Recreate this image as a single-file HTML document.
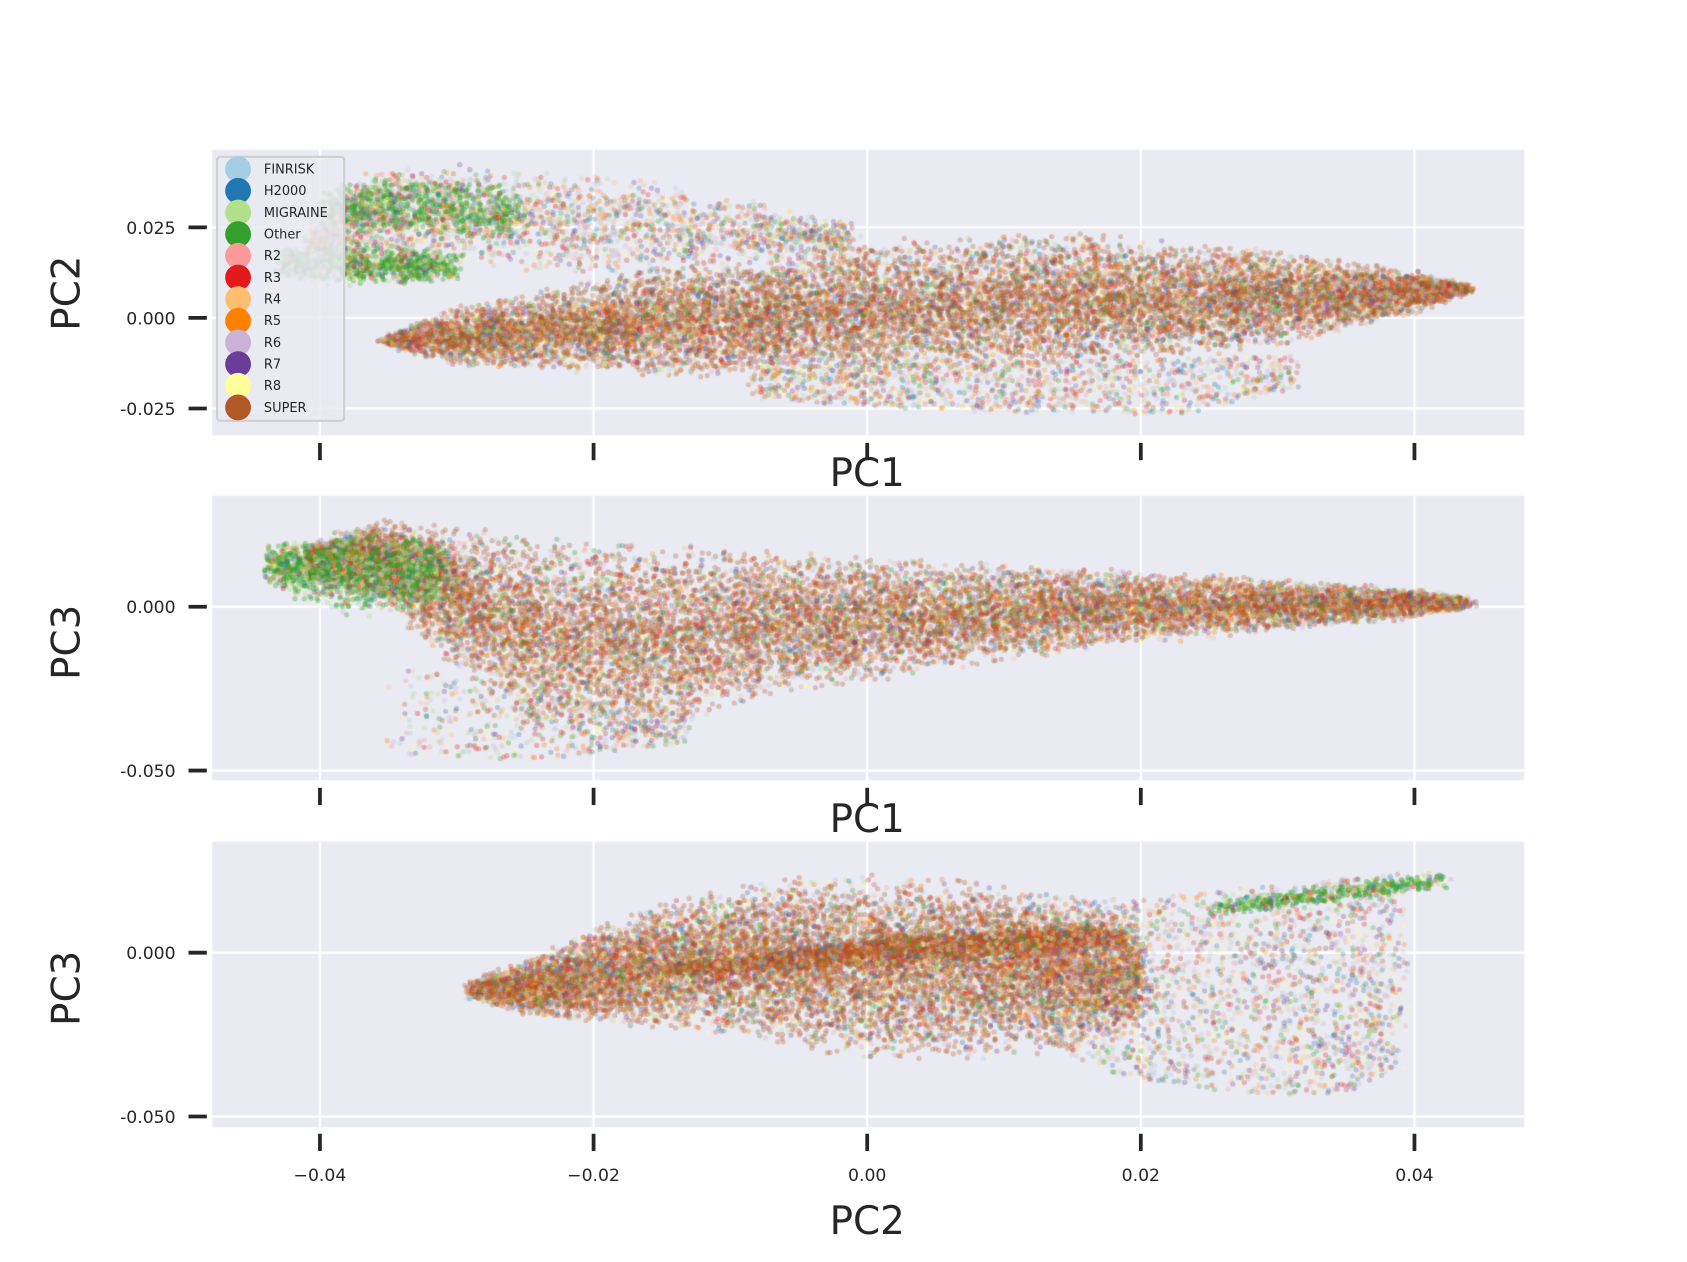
<!DOCTYPE html>
<html><head><meta charset="utf-8"><style>
html,body{margin:0;padding:0;background:#fff;}
#w{position:relative;width:1687px;height:1262px;overflow:hidden;}
canvas,svg{position:absolute;left:0;top:0;}
</style></head><body><div id="w">
<canvas id="c" width="1687" height="1262"></canvas>
<svg width="1687" height="1262" viewBox="0 0 1566 1171" preserveAspectRatio="none" font-family="'DejaVu Sans','Liberation Sans',sans-serif" fill="#262626">
<g stroke="#262626" stroke-width="3.5">
<line x1="175" y1="211" x2="192" y2="211"/><line x1="175" y1="295" x2="192" y2="295"/><line x1="175" y1="379" x2="192" y2="379"/>
<line x1="175" y1="563" x2="192" y2="563"/><line x1="175" y1="715" x2="192" y2="715"/>
<line x1="175" y1="884" x2="192" y2="884"/><line x1="175" y1="1036" x2="192" y2="1036"/>
<line x1="297" y1="411" x2="297" y2="427"/><line x1="551" y1="411" x2="551" y2="427"/><line x1="805" y1="411" x2="805" y2="427"/><line x1="1059" y1="411" x2="1059" y2="427"/><line x1="1313" y1="411" x2="1313" y2="427"/>
<line x1="297" y1="731" x2="297" y2="747"/><line x1="551" y1="731" x2="551" y2="747"/><line x1="805" y1="731" x2="805" y2="747"/><line x1="1059" y1="731" x2="1059" y2="747"/><line x1="1313" y1="731" x2="1313" y2="747"/>
<line x1="297" y1="1052" x2="297" y2="1068"/><line x1="551" y1="1052" x2="551" y2="1068"/><line x1="805" y1="1052" x2="805" y2="1068"/><line x1="1059" y1="1052" x2="1059" y2="1068"/><line x1="1313" y1="1052" x2="1313" y2="1068"/>
</g>
<g font-size="16" text-anchor="end">
<text x="163" y="217">0.025</text><text x="163" y="301">0.000</text><text x="163" y="385">-0.025</text>
<text x="163" y="569">0.000</text><text x="163" y="721">-0.050</text>
<text x="163" y="890">0.000</text><text x="163" y="1042">-0.050</text>
</g>
<g font-size="16" text-anchor="middle">
<text x="297" y="1096">−0.04</text><text x="551" y="1096">−0.02</text><text x="805" y="1096">0.00</text><text x="1059" y="1096">0.02</text><text x="1313" y="1096">0.04</text>
</g>
<g font-size="36" text-anchor="middle">
<text x="805" y="451">PC1</text><text x="805" y="772">PC1</text><text x="805" y="1145">PC2</text>
<text transform="translate(74,272) rotate(-90)">PC2</text>
<text transform="translate(74,596) rotate(-90)">PC3</text>
<text transform="translate(74,917) rotate(-90)">PC3</text>
</g>
<rect x="201.5" y="145.5" width="118" height="245" rx="3" fill="#eaeaf2" fill-opacity="0.85" stroke="#d0d0d0" stroke-width="2"/>
<g id="leg" font-size="12"></g>
</svg>
</div>
<script>
var cols=["#a6cee3","#1f78b4","#b2df8a","#33a02c","#fb9a99","#e31a1c","#fdbf6f","#ff7f00","#cab2d6","#6a3d9a","#ffff99","#b15928"];
var names=["FINRISK","H2000","MIGRAINE","Other","R2","R3","R4","R5","R6","R7","R8","SUPER"];
var leg=document.getElementById('leg'),h='';
for(var i=0;i<12;i++){var y=157+20.1*i;h+='<circle cx="221" cy="'+y+'" r="12" fill="'+cols[i]+'"/><text x="245" y="'+(y+4)+'">'+names[i]+'</text>';}
leg.innerHTML=h;
var c=document.getElementById('c').getContext('2d');
c.scale(1687/1566,1262/1171);
var s=12345;function R(){s=(s*16807)%2147483647;return s/2147483647;}
var panels=[[139,404,[211,295,379]],[460,724,[563,715]],[781,1046,[884,1036]]];
panels.forEach(function(p){
 c.fillStyle="#eaeaf2";c.fillRect(197,p[0],1218,p[1]-p[0]);
 c.strokeStyle="#fff";c.lineWidth=2.2;
 [297,551,805,1059,1313].forEach(function(x){c.beginPath();c.moveTo(x,p[0]);c.lineTo(x,p[1]);c.stroke();});
 p[2].forEach(function(y){c.beginPath();c.moveTo(197,y);c.lineTo(1415,y);c.stroke();});
});
function col(mode){var r=R();
 if(mode=='g'){if(r<0.55)return cols[3];if(r<0.65)return cols[2];}
 if(mode=='m'){return cols[Math.floor(R()*12)];}
 if(mode=='b'){if(r<0.62)return cols[11];}
 if(r<0.5)return cols[11];return cols[Math.floor(R()*11)];}
function dot(x,y,cl,a){c.globalAlpha=a;c.fillStyle=cl;c.beginPath();c.arc(x,y,2.4,0,6.283);c.fill();}
function pw(pts){return function(x){if(x<=pts[0][0])return pts[0][1];for(var i=1;i<pts.length;i++){if(x<=pts[i][0]){var a=pts[i-1],b=pts[i];return a[1]+(b[1]-a[1])*(x-a[0])/(b[0]-a[0]);}}return pts[pts.length-1][1];};}
function region(n,x0,x1,top,bot,mode,a,k,xpow){
 k=k||2;
 for(var i=0;i<n;i++){var u=R();if(xpow)u=Math.pow(u,xpow);var x=x0+(x1-x0)*u;
  var t=0;for(var j=0;j<k;j++)t+=R();t/=k;
  var y=top(x)+(bot(x)-top(x))*t;dot(x+(R()+R()-1)*12,y,col(mode),a);}
}
// Panel 1
region(2600,290,790,pw([[290,215],[330,160],[450,150],[600,165],[790,205]]),pw([[290,235],[400,250],[600,260],[790,235]]),'m',0.28,2,1.4);
region(900,300,480,pw([[300,175],[360,158],[480,170]]),pw([[300,215],[480,225]]),'g',0.35,2);
region(1100,262,420,pw([[262,230],[330,222],[420,232]]),pw([[262,258],[330,268],[420,262]]),'g',0.35,2);
region(15000,360,1360,pw([[360,312],[420,285],[600,250],[800,222],[1000,215],[1200,232],[1300,248],[1360,264]]),pw([[360,320],[420,340],[600,350],[800,355],[1000,345],[1200,320],[1300,295],[1360,272]]),'s',0.3,2);
region(1200,700,1200,pw([[700,340],[1000,335],[1200,330]]),pw([[700,370],[900,382],[1100,385],[1200,360]]),'m',0.28,1);
// Panel 2
region(16000,290,1360,pw([[290,505],[350,482],[500,495],[800,515],[1100,530],[1300,545],[1360,553]]),pw([[290,540],[360,560],[420,620],[500,680],[600,690],[700,650],[1000,605],[1300,575],[1360,565]]),'s',0.3,2,1.25);
region(1500,250,410,pw([[250,505],[330,490],[410,500]]),pw([[250,545],[330,575],[410,560]]),'g',0.35,2);
region(500,370,640,pw([[370,620],[640,660]]),pw([[370,700],[500,705],[640,690]]),'m',0.3,1);
// Panel 3
region(12000,440,1060,pw([[440,910],[500,885],[600,840],[700,815],[800,808],[900,815],[1000,830],[1060,860]]),pw([[440,928],[500,945],[600,955],[700,965],[800,985],[900,985],[1000,975],[1060,950]]),'s',0.3,2);
region(3500,620,1040,pw([[620,895],[800,870],[1000,855],[1040,862]]),pw([[620,905],[800,898],[1000,885],[1040,880]]),'b',0.35,2);
region(2200,950,1300,pw([[950,840],[1100,830],[1200,820],[1300,810]]),pw([[950,960],[1050,1000],[1150,1015],[1250,1015],[1300,990]]),'m',0.28,1,0.8);
region(450,1130,1340,pw([[1130,835],[1340,808]]),pw([[1130,850],[1340,825]]),'g',0.4,2);
</script>
</body></html>
